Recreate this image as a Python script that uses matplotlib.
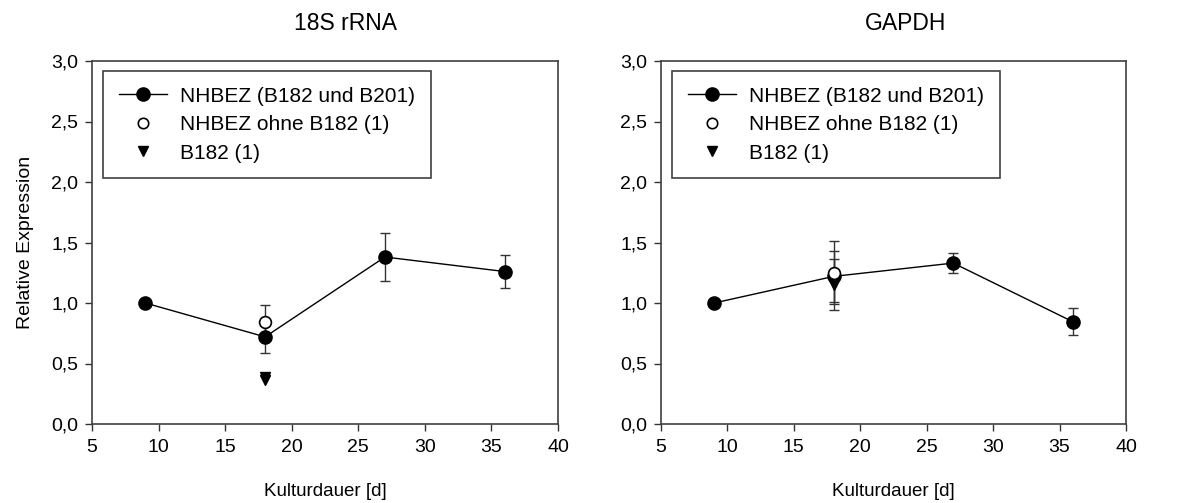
import matplotlib.pyplot as plt
from matplotlib.lines import Line2D

plt.rcParams['font.family'] = ['Liberation Sans', 'DejaVu Sans']

# shared time points (days in culture)
days = [9, 18, 27, 36]

# 18S rRNA panel
rrna_mean = [1.0, 0.72, 1.38, 1.26]
rrna_err = [0.0, 0.13, 0.20, 0.14]
rrna_ohne_x = [18]
rrna_ohne = [0.845]
rrna_ohne_err = [0.14]
rrna_b182_x = [18, 18]
rrna_b182 = [0.36, 0.385]

# GAPDH panel
gapdh_mean = [1.0, 1.22, 1.33, 0.845]
gapdh_err = [0.0, 0.21, 0.08, 0.11]
gapdh_ohne_x = [18]
gapdh_ohne = [1.25]
gapdh_ohne_err = [0.26]
gapdh_b182_x = [18]
gapdh_b182 = [1.15]
gapdh_b182_err = [0.21]

titles = ['18S rRNA', 'GAPDH']
title_x = [0.545, 0.525]
legend_labels = ['NHBEZ (B182 und B201)', 'NHBEZ ohne B182 (1)', 'B182 (1)']


def draw_panel(ax, mean, err, ohne_x, ohne, ohne_err, b_x, b_vals, b_err, title, tx):
    ebkw = dict(fmt='none', ecolor='#333333', elinewidth=1, capsize=3.8, capthick=1)
    # error bars first, markers on top
    ax.errorbar(b_x, b_vals, yerr=b_err, zorder=2, **ebkw)
    ax.errorbar(ohne_x, ohne, yerr=ohne_err, zorder=2, **ebkw)
    ax.errorbar(days, mean, yerr=err, zorder=2, **ebkw)

    # NHBEZ mean
    ax.plot(days, mean, '-o', color='black', linewidth=1, markersize=9.5, zorder=3)
    # B182 single donor
    ax.plot(b_x, b_vals, 'v', color='black', markersize=7.5, zorder=4)
    # NHBEZ without B182
    ax.plot(ohne_x, ohne, 'o', markerfacecolor='white', markeredgecolor='black',
            markeredgewidth=1.2, markersize=8.5, zorder=5)

    ax.set_xlim(5, 40)
    ax.set_ylim(0, 3.0)
    ax.set_xticks(range(5, 41, 5))
    ax.set_yticks([0, 0.5, 1.0, 1.5, 2.0, 2.5, 3.0])
    ax.set_yticklabels(['0,0', '0,5', '1,0', '1,5', '2,0', '2,5', '3,0'])
    ax.tick_params(direction='out', length=5, width=1, labelsize=14,
                   colors='#333333', labelcolor='black')
    ax.tick_params(axis='x', pad=6)
    ax.tick_params(axis='y', pad=5)
    for s in ax.spines.values():
        s.set_color('#404040')
        s.set_linewidth(1.2)
    ax.set_xlabel('Kulturdauer [d]', fontsize=13.5, labelpad=19)
    ax.set_title(title, fontsize=16.5, pad=22, x=tx)

    handles = [
        Line2D([], [], color='black', linewidth=1, marker='o', markersize=9.5),
        Line2D([], [], linestyle='none', marker='o', markerfacecolor='white',
               markeredgecolor='black', markeredgewidth=1.2, markersize=7.5),
        Line2D([], [], linestyle='none', marker='v', color='black', markersize=7.5),
    ]
    leg = ax.legend(handles, legend_labels, loc='upper left',
                    bbox_to_anchor=(0.024, 0.972), fontsize=15, frameon=True,
                    fancybox=False, edgecolor='#404040', borderpad=0.75,
                    handlelength=2.3, handletextpad=0.65, labelspacing=0.45,
                    borderaxespad=0, framealpha=1)
    leg.get_frame().set_linewidth(1.2)


fig = plt.figure(figsize=(11.85, 5.03), dpi=100)
ax1 = fig.add_axes([92 / 1185, 79 / 503, 466 / 1185, 363 / 503])
ax2 = fig.add_axes([661 / 1185, 79 / 503, 465 / 1185, 363 / 503])

draw_panel(ax1, rrna_mean, rrna_err, rrna_ohne_x, rrna_ohne, rrna_ohne_err,
           rrna_b182_x, rrna_b182, None, titles[0], title_x[0])
draw_panel(ax2, gapdh_mean, gapdh_err, gapdh_ohne_x, gapdh_ohne, gapdh_ohne_err,
           gapdh_b182_x, gapdh_b182, gapdh_b182_err, titles[1], title_x[1])
ax1.set_ylabel('Relative Expression', fontsize=14, labelpad=12)

fig.savefig('out.png', dpi=100)
